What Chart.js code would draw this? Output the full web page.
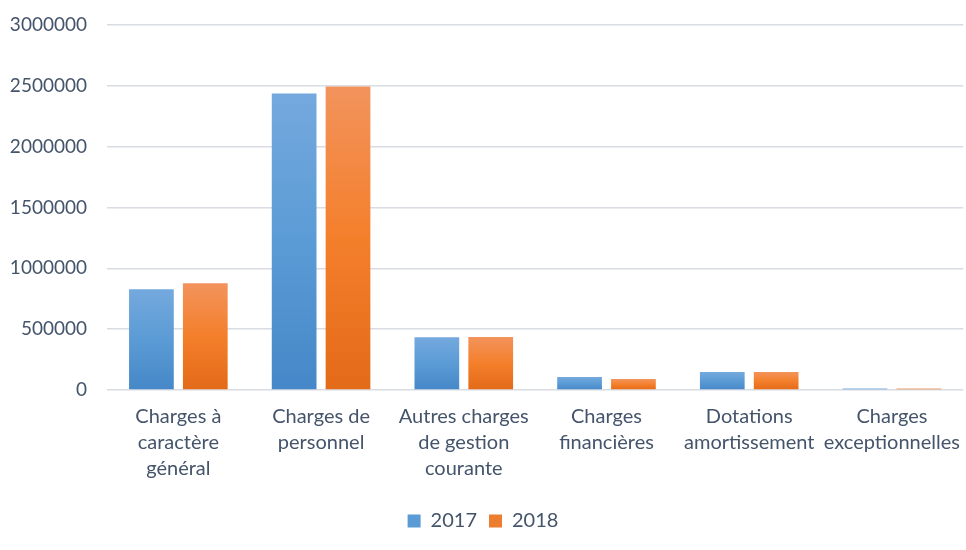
<!DOCTYPE html>
<html>
<head>
<meta charset="utf-8">
<script src="https://cdn.jsdelivr.net/npm/chart.js@4"></script>
<style>
  html, body { margin: 0; padding: 0; background: #fff; }
  #wrap { width: 966px; height: 550px; }
</style>
</head>
<body>
<div id="wrap"><canvas id="bar-chart"></canvas></div>
<script>
const labels_cat = [
  ["Charges à", "caractère", "général"],
  ["Charges de", "personnel"],
  ["Autres charges", "de gestion", "courante"],
  ["Charges", "financières"],
  ["Dotations", "amortissement"],
  ["Charges", "exceptionnelles"],
];
const values_2017 = [828000, 2435000, 434000, 107000, 148000, 12000];
const values_2018 = [877000, 2492000, 435000, 90000, 148000, 12000];
const y_ticks = [0, 500000, 1000000, 1500000, 2000000, 2500000, 3000000];

// each bar gets its own top-to-bottom gradient, lighter at the top
function barGradient(top, mid, bottom) {
  return function (context) {
    const chart = context.chart;
    const yScale = chart.scales.y;
    if (!yScale || context.raw == null) return bottom;
    const y0 = yScale.getPixelForValue(context.raw);
    const y1 = yScale.getPixelForValue(0);
    if (!isFinite(y0) || !isFinite(y1) || y1 - y0 < 1) return bottom;
    const g = chart.ctx.createLinearGradient(0, y0, 0, y1);
    g.addColorStop(0, top);
    g.addColorStop(0.5, mid);
    g.addColorStop(1, bottom);
    return g;
  };
}

const data_bar = {
  labels: labels_cat,
  datasets: [
    {
      label: "2017",
      data: values_2017,
      backgroundColor: barGradient("#74a9de", "#5b9bd5", "#4587c8"),
      categoryPercentage: 0.755,
      barPercentage: 0.83,
    },
    {
      label: "2018",
      data: values_2018,
      backgroundColor: barGradient("#f2935c", "#f47f2b", "#e36a18"),
      categoryPercentage: 0.755,
      barPercentage: 0.83,
    },
  ],
};

const legendColors = ["#5b9bd5", "#ed7d31"];

const config_bar = {
  type: "bar",
  data: data_bar,
  options: {
    responsive: true,
    maintainAspectRatio: false,
    animation: false,
    layout: { padding: { top: 0, right: 0, left: 0, bottom: 9 } },
    plugins: {
      legend: {
        position: "bottom",
        labels: {
          boxWidth: 13,
          boxHeight: 13,
          padding: 12,
          color: "#44546a",
          font: { family: "Lato", size: 20 },
          generateLabels: function (chart) {
            return chart.data.datasets.map(function (ds, i) {
              return {
                text: ds.label,
                fillStyle: legendColors[i],
                strokeStyle: legendColors[i],
                lineWidth: 0,
                datasetIndex: i,
                fontColor: "#44546a",
              };
            });
          },
        },
      },
      tooltip: { enabled: false },
    },
    scales: {
      x: {
        grid: { display: false },
        border: { display: false },
        afterFit: function (axis) { axis.height += 11; },
        ticks: {
          color: "#44546a",
          font: { family: "Lato", size: 20, lineHeight: 1.3 },
          padding: 6,
          maxRotation: 0,
          autoSkip: false,
        },
      },
      y: {
        min: 0,
        max: 3000000,
        afterBuildTicks: function (axis) {
          axis.ticks = y_ticks.map(function (v) { return { value: v }; });
        },
        afterFit: function (axis) { axis.width = 107; },
        grid: { color: "#d9dce3", lineWidth: 1.5, drawTicks: false },
        border: { display: false },
        ticks: {
          color: "#44546a",
          font: { family: "Lato", size: 19, lineHeight: 0.5 },
          padding: 20,
          callback: function (v) { return String(v); },
        },
      },
    },
  },
};

var ctx_bar = document.getElementById("bar-chart").getContext("2d");
var myChart_bar = new Chart(ctx_bar, config_bar);
</script>
</body>
</html>
